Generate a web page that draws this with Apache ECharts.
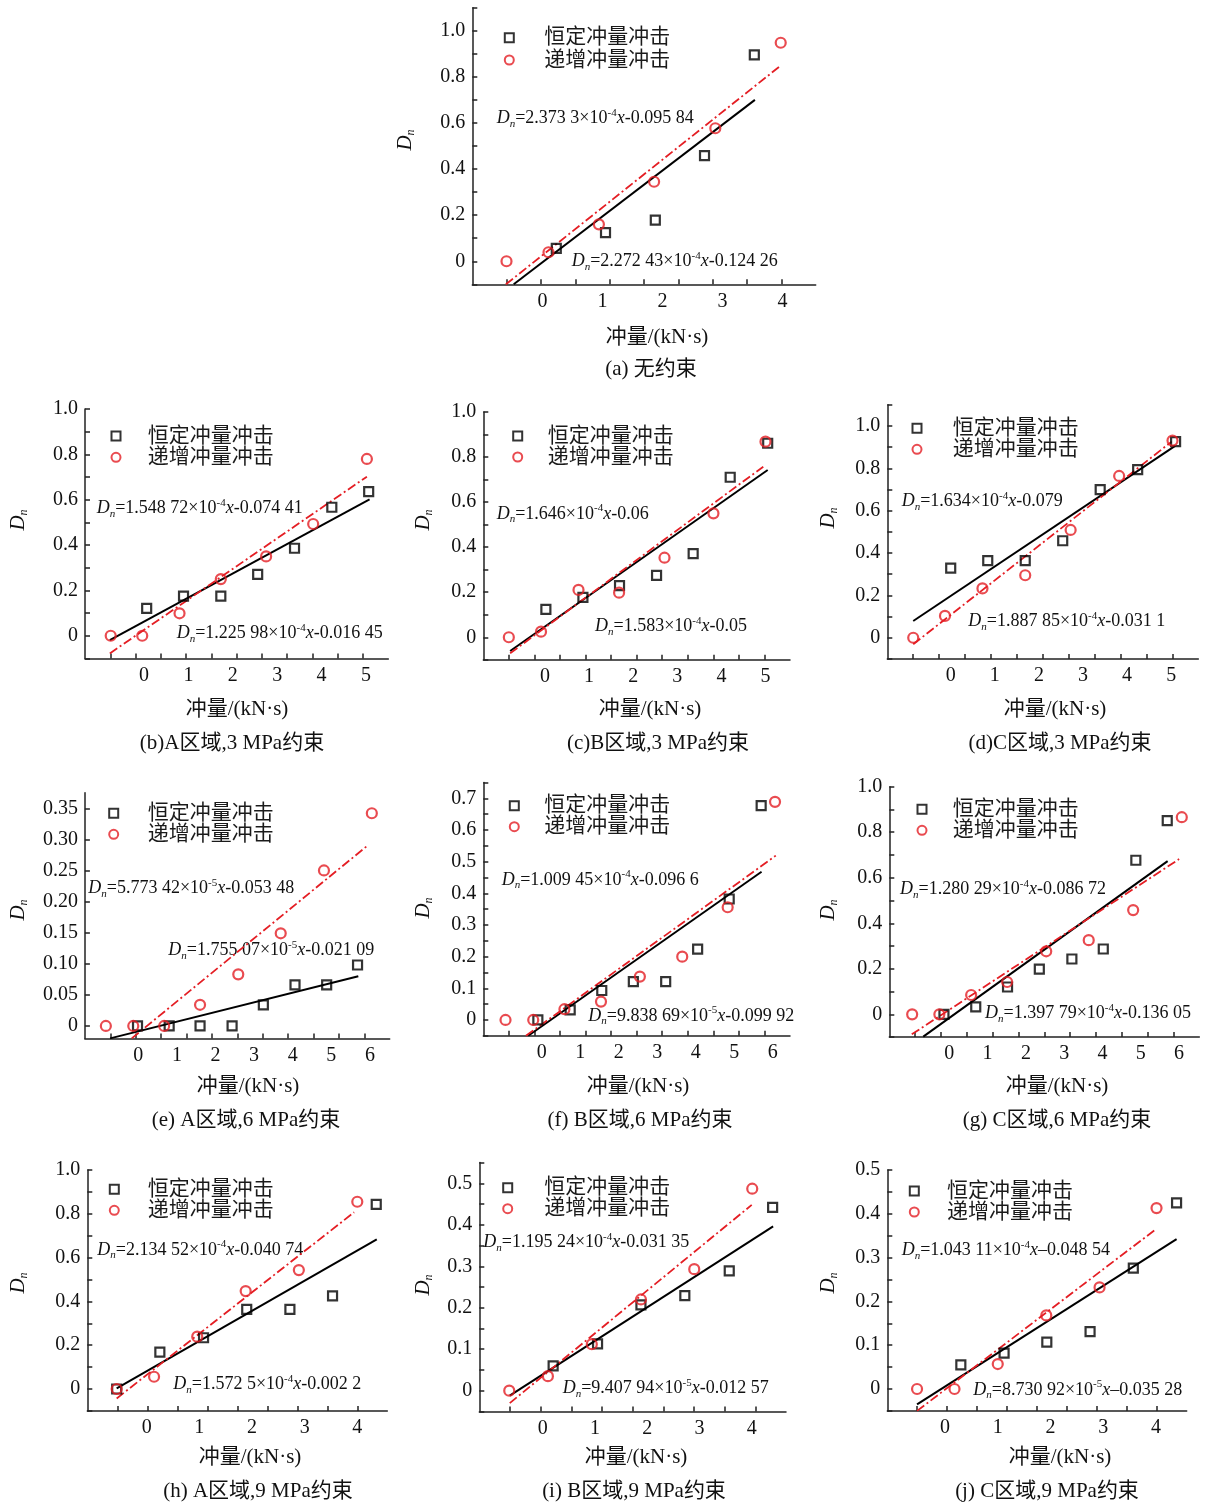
<!DOCTYPE html>
<html>
<head>
<meta charset="utf-8">
<script src="https://cdn.jsdelivr.net/npm/echarts@6/dist/echarts.min.js"></script>
<style>
  html, body { margin: 0; padding: 0; background: #fff; }
  #chart { width: 1210px; height: 1504px; }
</style>
</head>
<body>
<div id="chart"></div>
<script>
// data, x in kN·s (label units), y = Dn
// (a) no confinement
const aConst = [[0.23, 0.056], [1.05, 0.124], [1.88, 0.178], [2.70, 0.458], [3.53, 0.895]];
const aInc = [[-0.60, 0], [0.10, 0.039], [0.94, 0.160], [1.86, 0.345], [2.88, 0.577], [3.97, 0.948]];
const aFitConst = [[-0.48, -0.1], [3.54, 0.70]];
const aFitInc = [[-0.61, -0.1], [3.97, 0.849]];
// (b)
const bConst = [[0.06, 0.121], [0.89, 0.175], [1.73, 0.175], [2.56, 0.271], [3.39, 0.386], [4.23, 0.567], [5.06, 0.636]];
const bInc = [[-0.75, 0], [-0.04, 0], [0.80, 0.099], [1.73, 0.25], [2.75, 0.35], [3.81, 0.493], [5.02, 0.78]];
const bFitConst = [[-0.77, -0.019], [5.08, 0.602]];
const bFitInc = [[-0.77, -0.078], [5.02, 0.702]];
// (c)
const cConst = [[0.02, 0.124], [0.86, 0.177], [1.69, 0.229], [2.53, 0.275], [3.36, 0.371], [4.20, 0.71], [5.05, 0.861]];
const cInc = [[-0.82, 0], [-0.09, 0.025], [0.76, 0.21], [1.68, 0.198], [2.71, 0.353], [3.82, 0.55], [5.0, 0.868]];
const cFitConst = [[-0.79, -0.061], [5.05, 0.742]];
const cFitInc = [[-0.79, -0.071], [4.95, 0.757]];
// (d)
const dConst = [[0, 0.329], [0.84, 0.364], [1.69, 0.364], [2.54, 0.458], [3.39, 0.699], [4.24, 0.794], [5.10, 0.926]];
const dInc = [[-0.85, 0], [-0.13, 0.103], [0.72, 0.233], [1.69, 0.295], [2.72, 0.509], [3.82, 0.764], [5.03, 0.931]];
const dFitConst = [[-0.85, 0.079], [5.09, 0.906]];
const dFitInc = [[-0.85, -0.031], [5.01, 0.926]];
// (e)
const eConst = [[-0.02, 0], [0.80, 0], [1.60, 0], [2.43, 0], [3.24, 0.034], [4.06, 0.066], [4.88, 0.066], [5.68, 0.098]];
const eInc = [[-0.84, 0], [-0.13, 0], [0.67, 0], [1.60, 0.034], [2.59, 0.083], [3.69, 0.149], [4.81, 0.25], [6.05, 0.342]];
const eFitConst = [[-0.73, -0.02], [5.70, 0.080]];
const eFitInc = [[-0.17, -0.02], [5.96, 0.291]];
// (f)
const fConst = [[-0.10, 0], [0.74, 0.032], [1.56, 0.093], [2.38, 0.121], [3.22, 0.121], [4.05, 0.224], [4.87, 0.382], [5.70, 0.677]];
const fInc = [[-0.94, 0], [-0.22, 0], [0.59, 0.034], [1.54, 0.058], [2.55, 0.137], [3.65, 0.2], [4.83, 0.356], [6.06, 0.689]];
const fFitConst = [[-0.35, -0.05], [5.71, 0.468]];
const fFitInc = [[-0.41, -0.05], [6.08, 0.519]];
// (g)
const gConst = [[-0.14, 0], [0.69, 0.033], [1.52, 0.12], [2.35, 0.199], [3.20, 0.243], [4.02, 0.287], [4.87, 0.677], [5.69, 0.851]];
const gInc = [[-0.97, 0], [-0.26, 0], [0.57, 0.085], [1.51, 0.142], [2.53, 0.277], [3.64, 0.326], [4.80, 0.458], [6.07, 0.866]];
const gFitConst = [[-0.68, -0.098], [5.70, 0.673]];
const gFitInc = [[-0.98, -0.088], [6.0, 0.682]];
// (h)
const hConst = [[-0.57, 0], [0.25, 0.168], [1.08, 0.234], [1.90, 0.364], [2.72, 0.364], [3.53, 0.425], [4.36, 0.843]];
const hInc = [[-0.57, 0], [0.14, 0.056], [0.96, 0.239], [1.88, 0.447], [2.89, 0.543], [4.0, 0.855]];
const hFitConst = [[-0.57, 0.003], [4.37, 0.683]];
const hFitInc = [[-0.57, -0.043], [3.94, 0.807]];
// (i)
const iConst = [[0.20, 0.06], [1.05, 0.113], [1.88, 0.207], [2.72, 0.229], [3.57, 0.289], [4.40, 0.442]];
const iInc = [[-0.64, 0], [0.10, 0.035], [0.94, 0.112], [1.88, 0.22], [2.90, 0.293], [4.01, 0.487]];
const iFitConst = [[-0.63, -0.012], [4.41, 0.396]];
const iFitInc = [[-0.63, -0.03], [4.0, 0.448]];
// (j)
const jConst = [[0.30, 0.055], [1.12, 0.082], [1.93, 0.107], [2.75, 0.131], [3.57, 0.276], [4.39, 0.425]];
const jInc = [[-0.53, 0], [0.18, 0], [1.0, 0.057], [1.92, 0.168], [2.93, 0.232], [4.01, 0.413]];
const jFitConst = [[-0.53, -0.035], [4.39, 0.342]];
const jFitInc = [[-0.53, -0.05], [4.0, 0.365]];

const seriesNames = ['恒定冲量冲击', '递增冲量冲击'];
const xTickLabels = ['0', '1', '2', '3', '4', '5', '6'];
const xTitle = '冲量/(kN·s)';
const captions = [
  '(a) 无约束', '(b)A区域,3 MPa约束', '(c)B区域,3 MPa约束', '(d)C区域,3 MPa约束',
  '(e) A区域,6 MPa约束', '(f) B区域,6 MPa约束', '(g) C区域,6 MPa约束',
  '(h) A区域,9 MPa约束', '(i) B区域,9 MPa约束', '(j) C区域,9 MPa约束',
];
// [coefficient, exponent, intercept] of the two fits written in each panel
const fitEquations = [
  [['2.373 3', '-4', '-0.095 84'], ['2.272 43', '-4', '-0.124 26']],
  [['1.548 72', '-4', '-0.074 41'], ['1.225 98', '-4', '-0.016 45']],
  [['1.646', '-4', '-0.06'], ['1.583', '-4', '-0.05']],
  [['1.634', '-4', '-0.079'], ['1.887 85', '-4', '-0.031 1']],
  [['5.773 42', '-5', '-0.053 48'], ['1.755 07', '-5', '-0.021 09']],
  [['1.009 45', '-4', '-0.096 6'], ['9.838 69', '-5', '-0.099 92']],
  [['1.280 29', '-4', '-0.086 72'], ['1.397 79', '-4', '-0.136 05']],
  [['2.134 52', '-4', '-0.040 74'], ['1.572 5', '-4', '-0.002 2']],
  [['1.195 24', '-4', '-0.031 35'], ['9.407 94', '-5', '-0.012 57']],
  [['1.043 11', '-4', '–0.048 54'], ['8.730 92', '-5', '–0.035 28']],
];

const SERIF = '"Liberation Serif", "Times New Roman", "Noto Sans CJK SC", serif';
const RED = '#e41e24';
const AXIS = '#222';

// layout of each panel: grid box, y range [min, max, tick step, label step, decimals],
// x range in label units, number of (evenly spaced) x tick intervals, text anchors
const panels = [
  { grid: [472.3, 7.7, 343.4, 276.6], y: [-0.1, 1.1, 0.1, 0.2, 1], x: [-1.17, 4.553], ticks: 10,
    data: [aConst, aInc, aFitConst, aFitInc], legend: [508.3, 37.7, 60, 543.3],
    eq: [[496.7, 118.3], [571.7, 261.7]], yName: [405, 140], xName: [657, 337], cap: [651, 369] },
  { grid: [85, 409.1, 303.3, 249.3], y: [-0.1, 1.0, 0.1, 0.2, 1], x: [-1.329, 5.502], ticks: 12,
    data: [bConst, bInc, bFitConst, bFitInc], legend: [115, 436, 457.3, 146.7],
    eq: [[96.7, 508.3], [176.7, 633.3]], yName: [18, 520], xName: [237, 709], cap: [232, 743] },
  { grid: [483.3, 411.9, 306.7, 247.9], y: [-0.1, 1.0, 0.1, 0.2, 1], x: [-1.399, 5.556], ticks: 12,
    data: [cConst, cInc, cFitConst, cFitInc], legend: [516.7, 436, 456, 546.7],
    eq: [[496.7, 514], [595, 626.7]], yName: [423, 520], xName: [650, 709], cap: [658, 743] },
  { grid: [887.3, 404.8, 311, 254.1], y: [-0.1, 1.1, 0.1, 0.2, 1], x: [-1.438, 5.615], ticks: 12,
    data: [dConst, dInc, dFitConst, dFitInc], legend: [916, 428.3, 449.3, 951.7],
    eq: [[901.7, 501.7], [968.3, 621.7]], yName: [828, 518], xName: [1055, 709], cap: [1060, 743] },
  { grid: [84.9, 792.7, 304.8, 245.7], y: [-0.02, 0.375, 0.05, 0.05, 2], x: [-1.383, 6.513], ticks: 12,
    data: [eConst, eInc, eFitConst, eFitInc], legend: [112.7, 813.3, 834, 146.7],
    eq: [[88.3, 888.3], [168.3, 950.7]], yName: [18, 910], xName: [248, 1086], cap: [246, 1120] },
  { grid: [483.3, 782.5, 306.7, 253.3], y: [-0.05, 0.75, 0.05, 0.1, 1], x: [-1.517, 6.449], ticks: 12,
    data: [fConst, fInc, fFitConst, fFitInc], legend: [513.3, 805.7, 826.7, 543.3],
    eq: [[501.7, 880], [588.3, 1016]], yName: [423, 908], xName: [638, 1086], cap: [640, 1120] },
  { grid: [889.3, 786.7, 310, 250.4], y: [-0.1, 1.0, 0.1, 0.2, 1], x: [-1.567, 6.527], ticks: 12,
    data: [gConst, gInc, gFitConst, gFitInc], legend: [921, 809.3, 830, 951.7],
    eq: [[900, 889.3], [985, 1013.3]], yName: [828, 910], xName: [1057, 1086], cap: [1057, 1120] },
  { grid: [87.3, 1170, 300, 240.9], y: [-0.1, 1.0, 0.1, 0.2, 1], x: [-1.128, 4.57], ticks: 10,
    data: [hConst, hInc, hFitConst, hFitInc], legend: [113.3, 1189.3, 1209.3, 146.7],
    eq: [[97.3, 1250], [173.3, 1384.3]], yName: [18, 1283], xName: [250, 1457], cap: [258, 1491] },
  { grid: [479.3, 1162.6, 306.7, 248.8], y: [-0.05, 0.55, 0.05, 0.1, 1], x: [-1.213, 4.656], ticks: 10,
    data: [iConst, iInc, iFitConst, iFitInc], legend: [506.7, 1187.7, 1208.3, 543.3],
    eq: [[483.3, 1242.3], [562.7, 1388.3]], yName: [423, 1285], xName: [636, 1457], cap: [634, 1491] },
  { grid: [887.3, 1170, 299.4, 240.9], y: [-0.05, 0.5, 0.05, 0.1, 1], x: [-1.094, 4.582], ticks: 10,
    data: [jConst, jInc, jFitConst, jFitInc], legend: [913.3, 1191, 1210.7, 946],
    eq: [[901.7, 1250.7], [973.3, 1390]], yName: [828, 1283], xName: [1060, 1457], cap: [1047, 1491] },
];

const axisLineStyle = { color: AXIS, width: 1.5 };

// multiples of step inside [lo, hi]
function stepsIn(lo, hi, step) {
  const out = [];
  for (let k = Math.ceil(lo / step - 1e-6); k * step <= hi + 1e-9; k++) out.push(+(k * step).toFixed(6));
  return out;
}

const EQ_RICH = {
  d: { fontFamily: SERIF, fontSize: 18, fontStyle: 'italic', lineHeight: 22, fill: '#111' },
  n: { fontFamily: SERIF, fontSize: 11, fontStyle: 'italic', lineHeight: 11, verticalAlign: 'bottom', fill: '#111' },
  t: { fontFamily: SERIF, fontSize: 18, lineHeight: 22, fill: '#111' },
  s: { fontFamily: SERIF, fontSize: 11, lineHeight: 11, verticalAlign: 'top', fill: '#111' },
  i: { fontFamily: SERIF, fontSize: 18, fontStyle: 'italic', lineHeight: 22, fill: '#111' },
};

const NAME_RICH = {
  d: { fontFamily: SERIF, fontSize: 21, fontStyle: 'italic', lineHeight: 24, fill: '#111' },
  n: { fontFamily: SERIF, fontSize: 12, fontStyle: 'italic', lineHeight: 12, verticalAlign: 'bottom', fill: '#111' },
};

function plainText(str, x, y) {
  return {
    type: 'text', x, y,
    style: {
      text: str, fontFamily: SERIF, fontSize: 21, fill: '#111',
      align: 'center', verticalAlign: 'middle', textAlign: 'center', textVerticalAlign: 'middle',
    },
  };
}

const grid = [];
const xAxis = [];
const yAxis = [];
const series = [];
const legend = [];
const graphic = [];

panels.forEach((p, i) => {
  grid.push({
    left: p.grid[0], top: p.grid[1], width: p.grid[2], height: p.grid[3],
    containLabel: false, outerBoundsMode: 'none',
  });

  // x ticks are evenly spaced along the axis and do not line up with the labels in the source
  const [x0, x1] = p.x;
  const xTicks = [];
  for (let k = 1; k < p.ticks; k++) xTicks.push(x0 + (k * (x1 - x0)) / p.ticks);
  const xLabels = stepsIn(0, x1, 1).filter((v) => v < xTickLabels.length);

  xAxis.push({
    type: 'value', gridIndex: i, position: 'bottom', min: x0, max: x1,
    axisLine: { show: true, onZero: false, lineStyle: axisLineStyle },
    axisTick: { show: true, inside: true, length: 5, lineStyle: axisLineStyle, customValues: xTicks },
    splitLine: { show: false },
    axisLabel: {
      margin: 7, fontSize: 20, fontFamily: SERIF, color: '#111', customValues: xLabels,
      formatter: (v) => xTickLabels[Math.round(v)],
    },
  });

  const [y0, y1, tickStep, labelStep, dec] = p.y;
  yAxis.push({
    type: 'value', gridIndex: i, min: y0, max: y1,
    axisLine: { show: true, onZero: false, lineStyle: axisLineStyle },
    axisTick: { show: true, inside: true, length: 5, lineStyle: axisLineStyle, customValues: stepsIn(y0, y1, tickStep) },
    splitLine: { show: false },
    axisLabel: {
      margin: 7, fontSize: 20, fontFamily: SERIF, color: '#111', customValues: stepsIn(0, y1, labelStep),
      formatter: (v) => (Math.abs(v) < 1e-9 ? '0' : v.toFixed(dec)),
    },
  });

  const [cons, inc, fitC, fitI] = p.data;
  series.push({
    type: 'line', xAxisIndex: i, yAxisIndex: i, data: fitC, showSymbol: false, silent: true,
    lineStyle: { color: '#000', width: 2 }, z: 2,
  });
  series.push({
    type: 'line', xAxisIndex: i, yAxisIndex: i, data: fitI, showSymbol: false, silent: true,
    lineStyle: { color: RED, width: 1.8, type: [9, 3, 2, 3] }, z: 2,
  });
  series.push({
    name: seriesNames[0], type: 'scatter', xAxisIndex: i, yAxisIndex: i, data: cons,
    symbol: 'rect', symbolSize: 9,
    itemStyle: { color: 'rgba(255,255,255,0)', borderColor: '#000', borderWidth: 2.2 }, z: 3,
  });
  series.push({
    name: seriesNames[1], type: 'scatter', xAxisIndex: i, yAxisIndex: i, data: inc,
    symbol: 'circle', symbolSize: 10,
    itemStyle: { color: 'rgba(255,255,255,0)', borderColor: RED, borderWidth: 2.2 }, z: 3,
  });

  const [lx, ly1, ly2, tx] = p.legend;
  legend.push({
    data: seriesNames, orient: 'vertical', selectedMode: false,
    left: lx - 4.5, top: ly1 - 10.5, padding: 0,
    itemWidth: 9, itemHeight: 9, itemGap: Math.max(0, ly2 - ly1 - 21),
    textStyle: {
      fontSize: 21, lineHeight: 21, fontFamily: SERIF, color: '#1a1a1a',
      padding: [0, 0, 0, Math.max(0, tx - lx - 9.5)],
    },
  });

  fitEquations[i].forEach((eq, k) => {
    graphic.push({
      type: 'text', x: p.eq[k][0], y: p.eq[k][1],
      style: {
        text: `{d|D}{n|n}{t|=${eq[0]}×10}{s|${eq[1]}}{i|x}{t|${eq[2]}}`,
        rich: EQ_RICH, align: 'left', verticalAlign: 'middle',
        textAlign: 'left', textVerticalAlign: 'middle',
      },
    });
  });
  graphic.push({
    type: 'text', x: p.yName[0], y: p.yName[1], rotation: Math.PI / 2,
    style: {
      text: '{d|D}{n|n}', rich: NAME_RICH, align: 'center', verticalAlign: 'middle',
      textAlign: 'center', textVerticalAlign: 'middle',
    },
  });
  graphic.push(plainText(xTitle, p.xName[0], p.xName[1]));
  graphic.push(plainText(captions[i], p.cap[0], p.cap[1]));
});

const chart = echarts.init(document.getElementById('chart'), null, { renderer: 'canvas' });
chart.setOption({
  animation: false,
  backgroundColor: '#fff',
  grid,
  xAxis,
  yAxis,
  legend,
  series,
  graphic: { elements: graphic },
});
</script>
</body>
</html>
